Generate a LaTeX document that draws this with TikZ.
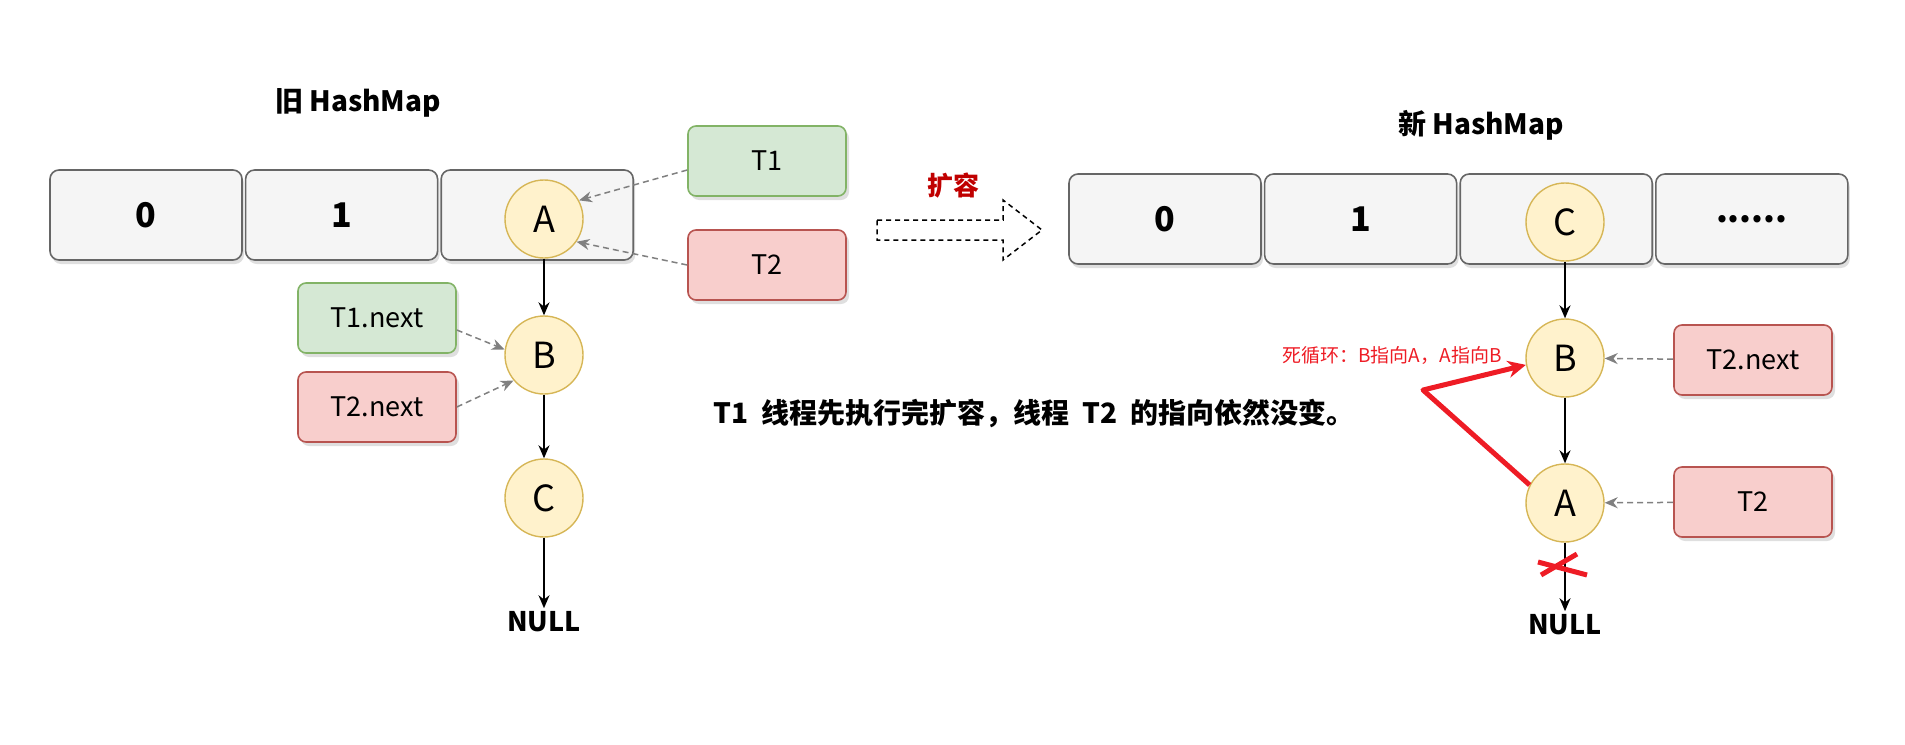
\documentclass[tikz,border=0pt]{standalone}
\usepackage{fontspec}
\setmainfont{Noto Sans CJK SC}
\usetikzlibrary{arrows.meta,shadows,positioning,calc}

\definecolor{cellfill}{HTML}{F5F5F5}
\definecolor{cellline}{HTML}{666666}
\definecolor{nodefill}{HTML}{FFF2CC}
\definecolor{nodeline}{HTML}{D6B656}
\definecolor{greenfill}{HTML}{D5E8D4}
\definecolor{greenline}{HTML}{82B366}
\definecolor{redfill}{HTML}{F8CECC}
\definecolor{redline}{HTML}{B85450}
\definecolor{loopred}{HTML}{EE1C25}
\definecolor{titlered}{HTML}{C00000}

\tikzset{
  cell/.style={draw=cellline, fill=cellfill, line width=1.6pt, rounded corners=9pt,
    minimum width=192, minimum height=90, font=\fontsize{34}{40}\selectfont\bfseries,
    drop shadow={shadow xshift=2pt,shadow yshift=-4pt,opacity=0.25}},
  entry/.style={circle, draw=nodeline, fill=nodefill, line width=1.4pt, minimum size=78,
    font=\fontsize{36}{40}\selectfont},
  thread/.style={line width=1.6pt, rounded corners=8pt, minimum width=158, minimum height=70,
    font=\fontsize{27}{30}\selectfont,
    drop shadow={shadow xshift=3pt,shadow yshift=-4pt,opacity=0.25}},
  green/.style={thread, draw=greenline, fill=greenfill},
  red/.style={thread, draw=redline, fill=redfill},
  link/.style={-{Stealth[length=13pt,width=11pt]}, line width=1.6pt},
  ptr/.style={-{Stealth[length=13pt,width=11pt]}, draw=gray, line width=1.5pt, dash pattern=on 6pt off 4pt},
  title/.style={font=\fontsize{28}{32}\selectfont\bfseries}
}

\begin{document}
\begin{tikzpicture}[x=1pt,y=-1pt]
        \useasboundingbox (0,0) rectangle (1905,744);

        % old map
        \node[title] (oldtitle) at (358,103) {旧 HashMap};
        \node[cell] (o0) at (146,215) {0};
        \node[cell, right=2pt of o0] (o1) {1};
        \node[cell, right=2pt of o1] (o2) {};

        \node[entry] (oa) at (544,219) {A};
        \node[entry] (ob) at (544,355) {B};
        \node[entry] (oc) at (544,498) {C};
        \node[font=\fontsize{27}{30}\selectfont\bfseries] (onull) at (544,622) {NULL};

        \draw[link] (oa) -- (ob);
        \draw[link] (ob) -- (oc);
        \draw[link] (oc) -- (onull);

        % threads, old
        \node[green] (t1) at (767,161) {T1};
        \node[red] (t2) at (767,265) {T2};
        \node[green] (t1next) at (377,318) {T1.next};
        \node[red] (t2next) at (377,407) {T2.next};

        \draw[ptr] ([yshift=-9pt]t1.west) -- (oa.28);
        \draw[ptr] (t2.west) -- (oa.-35);
        \draw[ptr] ([yshift=-12pt]t1next.east) -- (ob.172);
        \draw[ptr] (t2next.east) -- (ob.220);

        % resize
        \node[font=\fontsize{26}{30}\selectfont\bfseries, text=titlered] (resize) at (953,186) {扩容};
        \draw[line width=1.5pt, dash pattern=on 5pt off 4pt]
          (877,220) -- (1003,220) -- (1003,200) -- (1042,230) -- (1003,260) -- (1003,240) -- (877,240) -- cycle;

        % new map
        \node[title] (newtitle) at (1481,125) {新 HashMap};
        \node[cell] (n0) at (1165,219) {0};
        \node[cell, right=2pt of n0] (n1) {1};
        \node[cell, right=2pt of n1] (n2) {};
        \node[cell, right=2pt of n2] (n3) {......};

        \node[entry] (nc) at (1565,222) {C};
        \node[entry] (nb) at (1565,358) {B};
        \node[entry] (na) at (1565,503) {A};
        \node[font=\fontsize{27}{30}\selectfont\bfseries] (nnull) at (1565,625) {NULL};

        \draw[link] (nc) -- (nb);
        \draw[link] (nb) -- (na);
        \draw[link] (na) -- (nnull);

        % threads, new
        \node[red] (t2nextb) at (1753,360) {T2.next};
        \node[red] (t2b) at (1753,502) {T2};
        \draw[ptr] (t2nextb) -- (nb);
        \draw[ptr] (t2b) -- (na);

        % dead loop
        \node[text=loopred, font=\fontsize{19}{22}\selectfont] (looptext) at (1392,356) {死循环：B指向A，A指向B};
        \coordinate (bend) at (1423,390);
        \draw[-{Stealth[length=18pt,width=17pt]}, loopred, line width=5pt, line join=round]
          (na.153) -- (bend) -- (nb.190);

        % cut
        \coordinate (cut) at (1563,565);
        \draw[loopred, line width=5pt] ($(cut)+(-25,-3)$) -- ($(cut)+(24,10)$);
        \draw[loopred, line width=5pt] ($(cut)+(-22,10)$) -- ($(cut)+(14,-11)$);

        % note
        \node[font=\fontsize{28}{32}\selectfont\bfseries] (note) at (1034,413) {T1\ \ 线程先执行完扩容，线程\ \ T2\ \ 的指向依然没变。};
    \end{tikzpicture}
\end{document}
